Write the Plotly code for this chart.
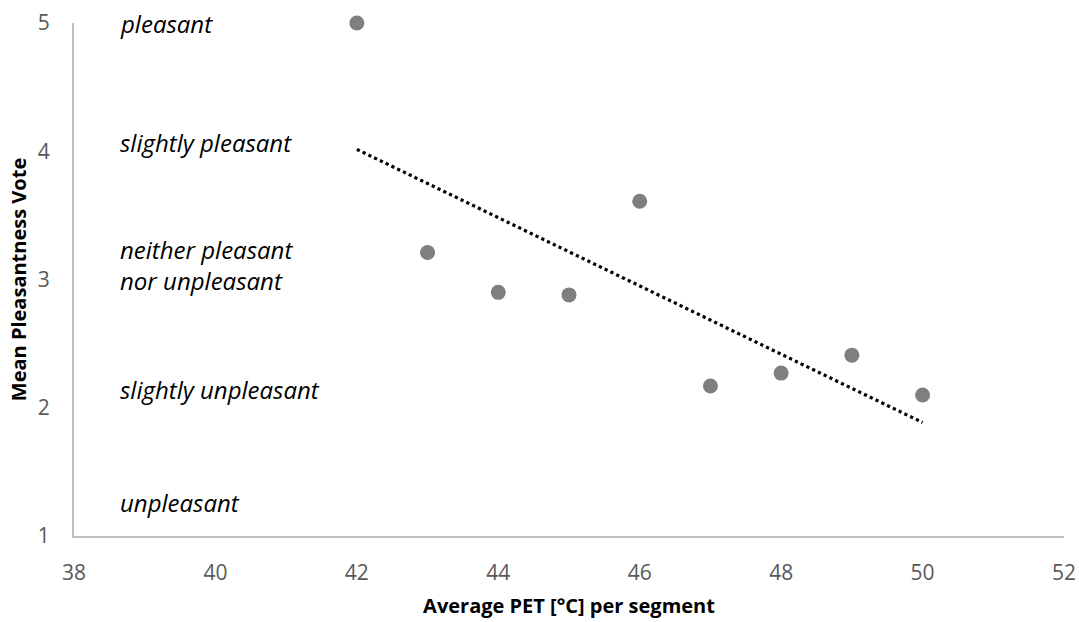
import numpy as np
import plotly.graph_objects as go

pet = [42, 43, 44, 45, 46, 47, 48, 49, 50]
vote = [5.0, 3.21, 2.90, 2.88, 3.61, 2.17, 2.27, 2.41, 2.10]

scale_labels = ["pleasant", "slightly pleasant", "neither pleasant<br>nor unpleasant",
                "slightly unpleasant", "unpleasant"]
scale_y = [5.0, 4.07, 3.11, 2.14, 1.26]

x_ticks = [38, 40, 42, 44, 46, 48, 50, 52]
y_ticks = [1, 2, 3, 4, 5]

slope, intercept = np.polyfit(pet, vote, 1)
trend_x = [min(pet), max(pet)]
trend_y = [slope * v + intercept for v in trend_x]

fig = go.Figure()
fig.add_trace(go.Scatter(x=trend_x, y=trend_y, mode="lines",
                         line=dict(color="black", width=3.2, dash="dot"),
                         hoverinfo="skip", showlegend=False, cliponaxis=False))
fig.add_trace(go.Scatter(x=pet, y=vote, mode="markers",
                         marker=dict(color="#7f7f7f", size=15),
                         showlegend=False, cliponaxis=False))

for lab, yy in zip(scale_labels, scale_y):
    fig.add_annotation(x=38.62, y=yy, xref="x", yref="y", text="<i>" + lab + "</i>",
                       showarrow=False, xanchor="left", yanchor="middle", align="left",
                       font=dict(family="Open Sans", size=24, color="black"))

axis_font = dict(family="Open Sans", size=21, color="#595959")
fig.update_layout(
    width=1079, height=622,
    margin=dict(l=74, r=15, t=23, b=86),
    plot_bgcolor="white", paper_bgcolor="white",
    xaxis=dict(range=[38, 52], tickvals=x_ticks, showgrid=False, zeroline=False,
               showline=True, linecolor="#bfbfbf", linewidth=2, automargin=False,
               ticks="", ticklabelstandoff=17, tickfont=axis_font,
               title=dict(text="<b>Average PET [°C] per segment</b>", standoff=14,
                          font=dict(family="Open Sans", size=20, color="black"))),
    yaxis=dict(range=[1, 5], tickvals=y_ticks, showgrid=False, zeroline=False,
               showline=True, linecolor="#bfbfbf", linewidth=2, automargin=False,
               ticks="", ticklabelstandoff=18, tickfont=axis_font,
               title=dict(text="<b>Mean Pleasantness Vote</b>", standoff=6,
                          font=dict(family="Open Sans", size=20, color="black"))),
)
fig.write_html("out.html")
